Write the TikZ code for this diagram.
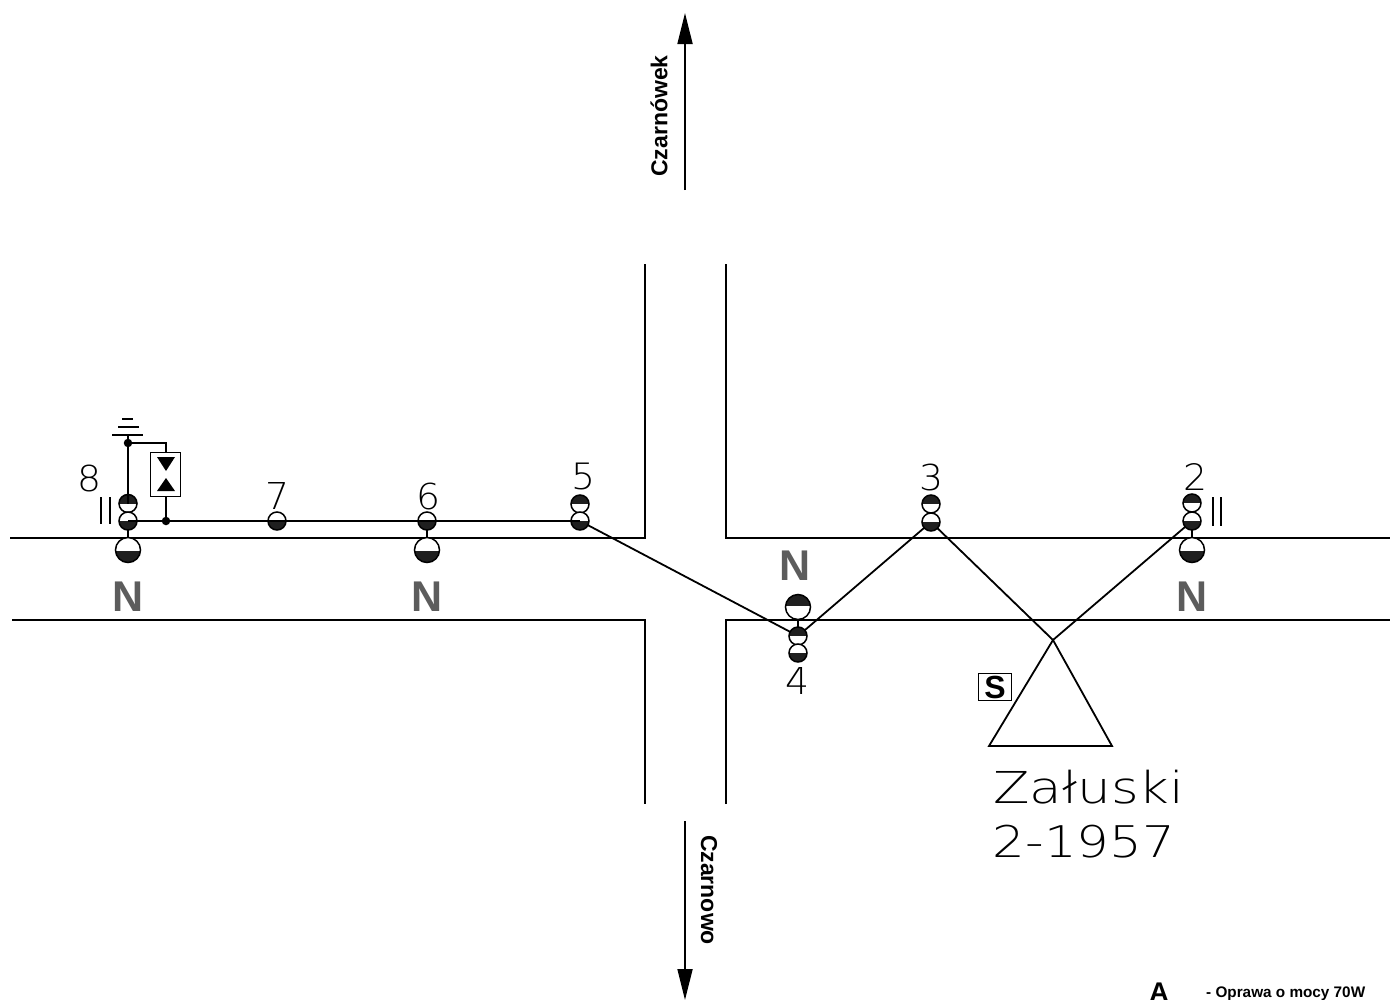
\documentclass[tikz,border=0pt]{standalone}
\usepackage{fontspec}
\usepackage{graphicx}
\setmainfont{Liberation Sans}
\newfontfamily\cadfont{DejaVu Sans ExtraLight}
\usetikzlibrary{arrows.meta}
\definecolor{ngray}{gray}{0.36}
\definecolor{hatch}{gray}{0.12}
\newcommand{\fsz}[1]{\fontsize{#1}{#1}\selectfont}
\newcommand{\cadtxt}[3]{\resizebox*{#1pt}{#2pt}{\cadfont #3}}
\tikzset{
  x=1pt,y=-1pt,
  wire/.style={line width=1.8pt,black},
  road/.style={line width=1.8pt,black},
  lampbase/.style={circle,draw=black,line width=1.5pt,fill=white,inner sep=0pt,outer sep=0pt},
  smallD/.style={lampbase,minimum size=18pt,path picture={\fill[hatch] (path picture bounding box.west) rectangle (path picture bounding box.south east);}},
  smallU/.style={lampbase,minimum size=18pt,path picture={\fill[hatch] (path picture bounding box.north west) rectangle (path picture bounding box.east);}},
  bigD/.style={lampbase,minimum size=25pt,path picture={\fill[hatch] ([yshift=-1pt]path picture bounding box.west) rectangle (path picture bounding box.south east);}},
  bigU/.style={lampbase,minimum size=25pt,path picture={\fill[hatch] (path picture bounding box.north west) rectangle ([yshift=1pt]path picture bounding box.east);}},
  jdot/.style={circle,fill=black,inner sep=0pt,minimum size=8.5pt},
  nlabel/.style={text=ngray,font=\bfseries\fsz{43},inner sep=0pt},
  lbl/.style={font=\bfseries\fsz{23},inner sep=0pt},
  cad/.style={inner sep=0pt,anchor=center},
  headtip/.style={-{Triangle[length=31pt,width=15pt]}},
}
\begin{document}
\begin{tikzpicture}
\useasboundingbox (0,0) rectangle (1390,999);
\clip (0,0) rectangle (1390,999);
\fill[white] (0,0) rectangle (1390,999);
% roads
\draw[road] (10,538) -- (645,538) -- (645,264);
\draw[road] (12,620) -- (645,620) -- (645,804);
\draw[road] (726,264) -- (726,538) -- (1390,538);
\draw[road] (726,804) -- (726,620) -- (1390,620);
% direction arrows
\coordinate (upS) at (685,190); \coordinate (upE) at (685,13);
\coordinate (dnS) at (685,821); \coordinate (dnE) at (685,1000);
\draw[wire,headtip] (upS) -- (upE);
\draw[wire,headtip] (dnS) -- (dnE);
\node[lbl,rotate=90] (czk) at (659,116) {Czarnówek};
\node[lbl,rotate=-90] (czo) at (709,890) {Czarnowo};
% coordinates for wires
\coordinate (l8u) at (128,503.5); \coordinate (l8d) at (128,521);
\coordinate (l7) at (277,521); \coordinate (l6) at (427,521);
\coordinate (l5d) at (580,521); \coordinate (l3d) at (931,522);
\coordinate (l4u) at (798,636); \coordinate (l2d) at (1192,521);
\coordinate (apex) at (1053,640);
\coordinate (gnd) at (128,435);
% stems to big lamps
\draw[wire] (l8d) -- (128,550);
\draw[wire] (l6) -- (427,550);
\draw[wire] (l2d) -- (1192,550);
\draw[wire] (798,607) -- (l4u);
% street lamps, big
\node[bigD] (b8) at (128,550) {};
\node[bigD] (b6) at (427,550) {};
\node[bigD] (b2) at (1192,550) {};
\node[bigU] (b4) at (798,607) {};
% street lamps, small
\node[smallU] (p8u) at (l8u) {};
\node[smallD] (p8d) at (l8d) {};
\node[smallD] (p7) at (l7) {};
\node[smallD] (p6) at (l6) {};
\node[smallU] (p5u) at (580,504) {};
\node[smallD] (p5d) at (l5d) {};
\node[smallU] (p3u) at (931,504) {};
\node[smallD] (p3d) at (l3d) {};
\node[smallU] (p4u) at (l4u) {};
\node[smallD] (p4d) at (798,653) {};
\node[smallU] (p2u) at (1192,503) {};
\node[smallD] (p2d) at (l2d) {};
% overhead line
\draw[wire] (p8d.center) -- (p7.center) -- (p6.center) -- (p5d.center);
\draw[wire] (p5d) -- (p4u);
\draw[wire] (p4u) -- (p3d);
\draw[wire] (p3d) -- (apex);
\draw[wire] (apex) -- (p2d);
% station
\draw[wire,line join=miter] (apex) -- (1112,746) -- (989,746) -- cycle;
\node[draw=black,line width=1.5pt,minimum width=33pt,minimum height=27pt,inner sep=0pt,font=\bfseries\fsz{32}] (sbox) at (995,687) {S};
% earth & arrester
\node[jdot] (j1) at (128,443) {};
\node[jdot] (j2) at (166,521) {};
\node[draw=black,line width=1.5pt,minimum width=30pt,minimum height=44pt,inner sep=0pt] (arr) at (165.5,474.5) {};
\draw[wire] (gnd) -- (p8u.center);
\draw[wire] (j1.center) -- (166,443) -- (arr.north -| j2);
\draw[wire] (arr.south -| j2) -- (j2);
\draw[line width=1.6pt] (112,435) -- (143,435) (118,427) -- (139,427) (122,419) -- (133,419);
\fill[black] (157,457) -- (175,457) -- (166,471) -- cycle;
\fill[black] (157,491) -- (175,491) -- (166,478) -- cycle;
% double marks
\draw[line width=1.3pt] (101,497) -- (101,524) (110,497) -- (110,524);
\draw[line width=1.3pt] (1213,497) -- (1213,526) (1221,497) -- (1221,526);
% N labels
\node[nlabel] (n8) at (128,597) {N};
\node[nlabel] (n6) at (427,597) {N};
\node[nlabel] (n4) at (795,566) {N};
\node[nlabel] (n2) at (1192,597) {N};
% pole numbers
\node[cad] (t8) at (90,478) {\cadtxt{24}{27}{8}};
\node[cad] (t7) at (277,496) {\cadtxt{24}{27}{7}};
\node[cad] (t6) at (428,496) {\cadtxt{24}{27}{6}};
\node[cad] (t5) at (583,477) {\cadtxt{24}{27}{5}};
\node[cad] (t3) at (931,477) {\cadtxt{24}{27}{3}};
\node[cad] (t2) at (1195,477) {\cadtxt{24}{27}{2}};
\node[cad] (t4) at (797,681) {\cadtxt{24}{27}{4}};
% station name
\node[cad] (zal) at (1089,787) {\cadtxt{191}{34}{Załuski}};
\node[cad] (yr) at (1084,842) {\cadtxt{182}{33}{2-1957}};
% legend
\node[anchor=base,inner sep=0pt,font=\bfseries\fsz{27}] (la) at (1159,1001.5) {A};
\node[anchor=base west,inner sep=0pt,font=\bfseries\fsz{15.3}] (lt) at (1206,997) {- Oprawa o mocy 70W};
\end{tikzpicture}
\end{document}
